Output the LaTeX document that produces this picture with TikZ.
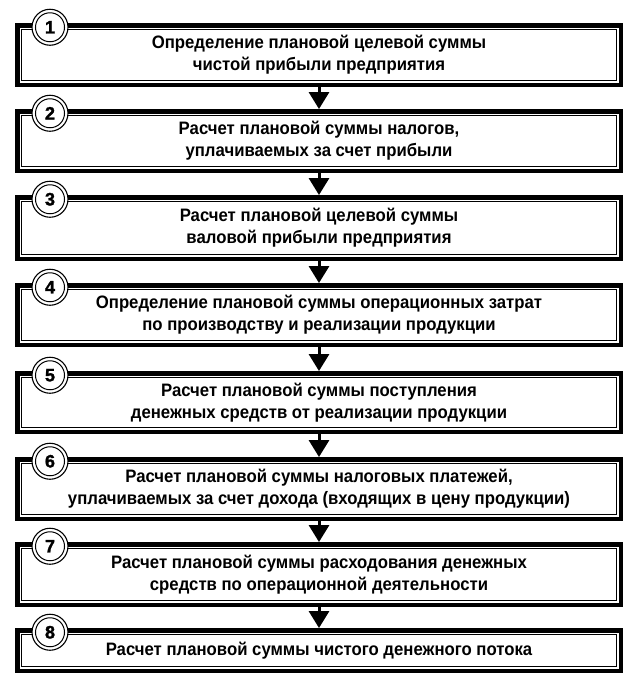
\documentclass[tikz,border=0pt]{standalone}
\usepackage{fontspec}
\setmainfont{Liberation Sans Bold}[FakeStretch=0.93]
\newfontfamily\numfont{Liberation Sans Bold}[FakeBold=1.5]
\usetikzlibrary{arrows.meta}
\tikzset{
  stagebox/.style={rectangle, draw=black, line width=4.5pt, fill=white,
    inner sep=0pt, outer sep=0pt, minimum width=603.5pt,
    align=center, font=\fontsize{18}{22}\selectfont},
  numring/.style={circle, draw=black, line width=1.1pt, fill=white,
    minimum size=36pt, inner sep=0pt, outer sep=0pt,
    font=\numfont\fontsize{18}{18}\selectfont},
  innerline/.style={draw=black, line width=1pt},
  flowarrow/.style={draw=black, line width=3pt,
    -{Triangle[width=20pt,length=17pt]}, shorten >=2.2pt}
}
\begin{document}
\begin{tikzpicture}[x=1pt,y=-1pt]
\useasboundingbox[fill=white] (0,0) rectangle (637,681);
% boxes: centre y, height (centre line of thick border)
\node[stagebox, minimum height=59.5pt] (b1) at (319,55)
  {Определение плановой целевой суммы\\чистой прибыли предприятия};
\node[stagebox, minimum height=59.5pt] (b2) at (319,141)
  {Расчет плановой суммы налогов,\\уплачиваемых за счет прибыли};
\node[stagebox, minimum height=61.5pt] (b3) at (319,228)
  {Расчет плановой целевой суммы\\валовой прибыли предприятия};
\node[stagebox, minimum height=59.5pt] (b4) at (319,315)
  {Определение плановой суммы операционных затрат\\по производству и реализации продукции};
\node[stagebox, minimum height=58.5pt] (b5) at (319,402.5)
  {Расчет плановой суммы поступления\\денежных средств от реализации продукции};
\node[stagebox, minimum height=59.5pt] (b6) at (319,489)
  {Расчет плановой суммы налоговых платежей,\\уплачиваемых за счет дохода (входящих в цену продукции)};
\node[stagebox, minimum height=60.5pt] (b7) at (319,574.5)
  {Расчет плановой суммы расходования денежных\\средств по операционной деятельности};
\node[stagebox, minimum height=40.5pt] (b8) at (319,650.5)
  {Расчет плановой суммы чистого денежного потока};
% inner thin frames
\foreach \b in {b1,b2,b3,b4,b5,b6,b7,b8}{
  \draw[innerline] ([xshift=4pt,yshift=-4pt]\b.north west) rectangle ([xshift=-4pt,yshift=4pt]\b.south east);
}
% arrows
\draw[flowarrow] (b1.south) -- (b2.north);
\draw[flowarrow] (b2.south) -- (b3.north);
\draw[flowarrow] (b3.south) -- (b4.north);
\draw[flowarrow] (b4.south) -- (b5.north);
\draw[flowarrow] (b5.south) -- (b6.north);
\draw[flowarrow] (b6.south) -- (b7.north);
\draw[flowarrow] (b7.south) -- (b8.north);
% number rings
\foreach \b/\n in {b1/1,b2/2,b3/3,b4/4,b5/5,b6/6,b7/7,b8/8}{
  \node[numring] (c\n) at ([yshift=-2pt]\b.north west -| 50,0) {\n};
  \draw[innerline] (c\n.center) circle (14.5pt);
}
\end{tikzpicture}
\end{document}
